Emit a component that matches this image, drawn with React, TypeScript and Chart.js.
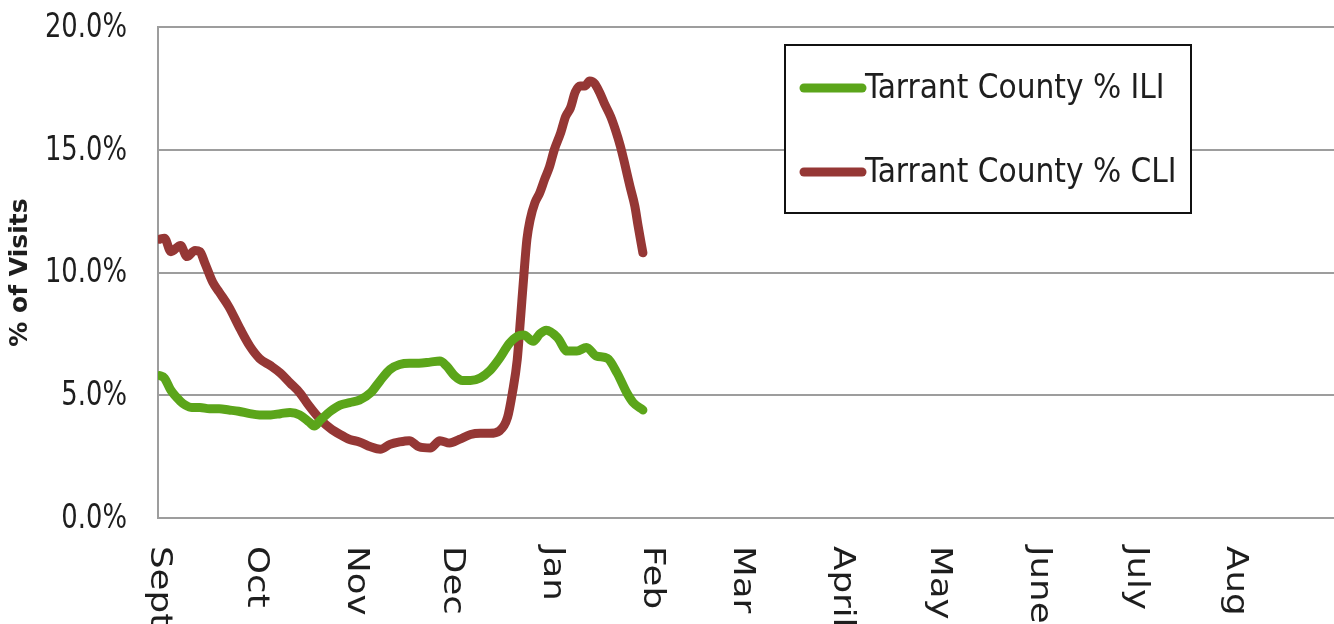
import React, { useEffect, useRef } from "react";
import { Chart, registerables } from "chart.js";

Chart.register(...registerables);

// Month labels and their start day (days since Sept 1)
const monthLabels = ["Sept", "Oct", "Nov", "Dec", "Jan", "Feb", "Mar", "April", "May", "June", "July", "Aug"];
const monthStartDays = [0, 30, 61, 91, 122, 153, 181, 212, 242, 273, 303, 334];
const seasonDays = 365;

// Tarrant County % ILI
const iliDays = [0.5, 2, 4, 7, 8.5, 10.5, 13, 16, 19, 22, 25, 28.5, 31.5, 35, 38, 41, 44, 47, 48.5, 50.5, 53.5, 56.5, 59.5, 62.5, 66, 69, 72, 75, 78, 81, 84.5, 87.5, 89.5, 92, 94.5, 97, 100, 103, 106, 109, 111.5, 113.5, 116.5, 118.5, 120.5, 124, 127, 130, 133, 136, 139.5, 142.5, 145.5, 147.5, 150.5];
const iliValues = [5.8, 5.7, 5.2, 4.75, 4.6, 4.5, 4.5, 4.45, 4.45, 4.4, 4.35, 4.25, 4.2, 4.2, 4.25, 4.3, 4.2, 3.9, 3.75, 4.0, 4.35, 4.6, 4.7, 4.8, 5.1, 5.6, 6.05, 6.25, 6.3, 6.3, 6.35, 6.4, 6.2, 5.8, 5.6, 5.6, 5.7, 6.0, 6.5, 7.1, 7.4, 7.45, 7.2, 7.5, 7.65, 7.35, 6.8, 6.8, 6.95, 6.6, 6.5, 5.9, 5.1, 4.7, 4.4];

// Tarrant County % CLI
const cliDays = [0.5, 2, 4, 7, 9, 11.5, 13, 14.5, 17, 19, 22, 25.5, 28.5, 31.5, 35, 38, 41, 44, 47, 50.5, 53.5, 56.5, 59.5, 62.5, 66, 69, 72, 75, 78, 81, 84.5, 87.5, 90.5, 93.5, 97, 100, 103, 106, 108.5, 110, 111.5, 112.5, 113.5, 114.5, 115.5, 117, 118.5, 120, 121.5, 123, 125, 126.5, 128, 129.5, 131, 132.5, 134, 135.5, 137, 138.5, 140.5, 142, 143.5, 145, 146.5, 148, 149, 150.5];
const cliValues = [11.35, 11.4, 10.85, 11.1, 10.65, 10.9, 10.85, 10.4, 9.6, 9.2, 8.6, 7.7, 7.0, 6.5, 6.2, 5.9, 5.5, 5.1, 4.55, 4.0, 3.65, 3.4, 3.2, 3.1, 2.9, 2.8, 3.0, 3.1, 3.15, 2.9, 2.85, 3.15, 3.05, 3.2, 3.4, 3.45, 3.45, 3.55, 4.1, 5.1, 6.45, 8.1, 9.8, 11.35, 12.15, 12.85, 13.25, 13.8, 14.3, 15.0, 15.7, 16.35, 16.7, 17.35, 17.6, 17.6, 17.8, 17.7, 17.35, 16.9, 16.35, 15.8, 15.15, 14.35, 13.5, 12.7, 11.9, 10.8];

const seriesLabels = ["Tarrant County % ILI", "Tarrant County % CLI"];
const seriesColors = ["#5BA51A", "#953735"];
const yMin = 0;
const yMax = 20;
const yStep = 5;

const TEXT = "#1e1e1e";
const GRID = "#9d9d9d";

const yTickPlugin = {
  id: "yTickLabels",
  afterDraw(chart: any) {
    const ctx = chart.ctx;
    const ys = chart.scales.y;
    const right = chart.chartArea.left - 31;
    ctx.save();
    ctx.fillStyle = TEXT;
    ctx.font = "34px 'DejaVu Sans', sans-serif";
    ctx.textAlign = "right";
    ctx.textBaseline = "middle";
    ys.ticks.forEach((t: any) => {
      const y = ys.getPixelForValue(t.value);
      ctx.save();
      ctx.translate(right, y + 1);
      ctx.scale(0.76, 1);
      ctx.fillText(Number(t.value).toFixed(1) + "%", 0, 0);
      ctx.restore();
    });
    ctx.restore();
  },
};

const monthLabelPlugin = {
  id: "monthLabels",
  afterDraw(chart: any) {
    const ctx = chart.ctx;
    const xs = chart.scales.x;
    const top = chart.chartArea.bottom + 28;
    ctx.save();
    ctx.fillStyle = TEXT;
    ctx.font = "33px 'DejaVu Sans', sans-serif";
    ctx.textAlign = "left";
    ctx.textBaseline = "middle";
    monthLabels.forEach((lab, i) => {
      const x = xs.getPixelForValue(monthStartDays[i]);
      ctx.save();
      ctx.translate(x + 1, top);
      ctx.rotate(Math.PI / 2);
      ctx.scale(1.08, 0.9);
      ctx.fillText(lab, 0, 0);
      ctx.restore();
    });
    ctx.restore();
  },
};

const legendBoxPlugin = {
  id: "legendBox",
  afterDraw(chart: any) {
    const ctx = chart.ctx;
    const ca = chart.chartArea;
    const left = ca.left + 627;
    const top = ca.top + 18;
    const w = 406;
    const h = 168;
    ctx.save();
    ctx.fillStyle = "#ffffff";
    ctx.fillRect(left, top, w, h);
    ctx.strokeStyle = "#111111";
    ctx.lineWidth = 2;
    ctx.strokeRect(left, top, w, h);
    ctx.font = "33px 'DejaVu Sans Condensed', 'DejaVu Sans', sans-serif";
    ctx.textAlign = "left";
    ctx.textBaseline = "middle";
    chart.data.datasets.forEach((ds: any, i: number) => {
      const y = top + 43 + i * 84;
      ctx.strokeStyle = ds.borderColor;
      ctx.lineWidth = 9;
      ctx.lineCap = "round";
      ctx.beginPath();
      ctx.moveTo(left + 19, y);
      ctx.lineTo(left + 77, y);
      ctx.stroke();
      ctx.fillStyle = TEXT;
      ctx.fillText(ds.label, left + 80, y + 1);
    });
    ctx.restore();
  },
};

export default function App() {
  const ref = useRef<HTMLCanvasElement | null>(null);

  useEffect(() => {
    if (!ref.current) return;
    const common = {
      borderWidth: 9,
      pointRadius: 0,
      tension: 0.3,
      cubicInterpolationMode: "monotone",
      borderCapStyle: "round",
      borderJoinStyle: "round",
    };
    const chart = new Chart(ref.current, {
      type: "line",
      data: {
        datasets: [
          {
            ...common,
            label: seriesLabels[0],
            data: iliDays.map((d, i) => ({ x: d, y: iliValues[i] })),
            borderColor: seriesColors[0],
            backgroundColor: seriesColors[0],
          },
          {
            ...common,
            label: seriesLabels[1],
            data: cliDays.map((d, i) => ({ x: d, y: cliValues[i] })),
            borderColor: seriesColors[1],
            backgroundColor: seriesColors[1],
          },
        ],
      } as any,
      options: {
        responsive: false,
        animation: false,
        events: [],
        layout: { padding: { top: 27, bottom: 106, left: 0, right: 0 } },
        plugins: {
          legend: { display: false },
          tooltip: { enabled: false },
        },
        scales: {
          x: {
            type: "linear",
            min: 0,
            max: seasonDays,
            display: false,
          },
          y: {
            min: yMin,
            max: yMax,
            afterFit: (s: any) => {
              s.width = 158;
              s.paddingTop = 0;
              s.paddingBottom = 0;
            },
            ticks: {
              stepSize: yStep,
              display: false,
            },
            grid: { color: GRID, lineWidth: 2, drawTicks: false },
            border: { display: true, color: GRID, width: 2 },
            title: {
              display: true,
              text: "% of Visits",
              color: TEXT,
              padding: { top: 5, bottom: 0 },
              font: { family: "'DejaVu Sans', sans-serif", size: 25, weight: "bold" },
            },
          },
        },
      } as any,
      plugins: [yTickPlugin, monthLabelPlugin, legendBoxPlugin],
    });
    return () => chart.destroy();
  }, []);

  return (
    <div style={{ position: "fixed", left: 0, top: 0, width: 1334, height: 624, background: "#fff" }}>
      <canvas ref={ref} width={1334} height={624} style={{ display: "block" }} />
    </div>
  );
}
